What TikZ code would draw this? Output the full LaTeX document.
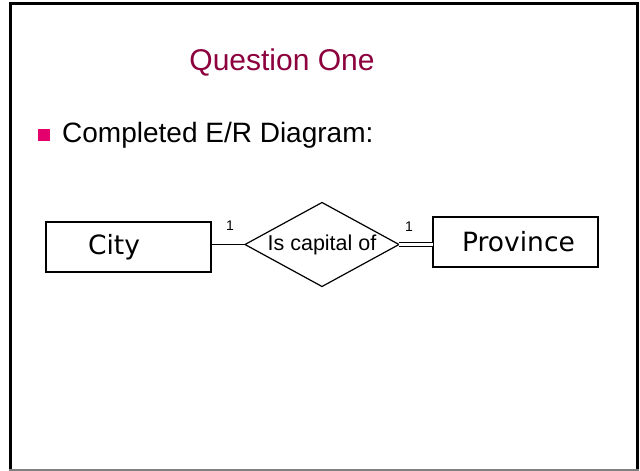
\documentclass[tikz,border=0pt]{standalone}
\usepackage{fontspec}
\setmainfont{Liberation Sans}
\newfontfamily\verd{DejaVu Sans}
\usetikzlibrary{shapes.geometric}
\definecolor{titlered}{RGB}{140,0,62}
\definecolor{bulletpink}{RGB}{228,0,108}
\begin{document}
\begin{tikzpicture}[x=1pt,y=-1pt,
  entity/.style={draw=black, line width=1.2pt, minimum width=165pt, minimum height=50pt, inner sep=0pt, outer sep=0pt, font=\verd\fontsize{26.5}{30}\selectfont},
  rel/.style={draw=black, line width=1.2pt, shape=diamond, aspect=1.83, minimum width=154pt, minimum height=84pt, inner sep=0pt, outer sep=0pt, font=\fontsize{21.5}{24}\selectfont},
  card/.style={font=\fontsize{14}{16}\selectfont, inner sep=0pt},
  conn/.style={line width=1.2pt}]
\useasboundingbox (0,0) rectangle (640,471);
\fill[white] (0,0) rectangle (640,471);
% frame
\draw[black, line width=3pt] (10.5,469.5) -- (10.5,3.5) -- (637.5,3.5) -- (637.5,469.5);
\draw[gray, line width=1.5pt] (9,470) -- (639,470);
% title
\node[anchor=base, text=titlered, font=\fontsize{30}{34}\selectfont, inner sep=0pt] (title) at (282,70) {Question One};
% bullet
\fill[bulletpink] (38,129) rectangle (50,141);
\node[anchor=base west, font=\fontsize{28}{32}\selectfont, inner sep=0pt] (sub) at (62,142) {Completed E/R Diagram:};
% diagram
\node[entity] (city) at (128.5,247) {City\kern29pt};
\node[rel] (capof) at (322,244.5) {Is capital of};
\node[entity] (prov) at (515.5,242) {\kern6pt Province};
\draw[conn] (city.east |- capof.west) -- (capof.west);
\draw[line width=1.1pt, double, double distance=3.2pt] (capof.east) -- (prov.west |- capof.east);
\node[card] (c1) at (230,226) {1};
\node[card] (c2) at (409,226.5) {1};
\end{tikzpicture}
\end{document}
